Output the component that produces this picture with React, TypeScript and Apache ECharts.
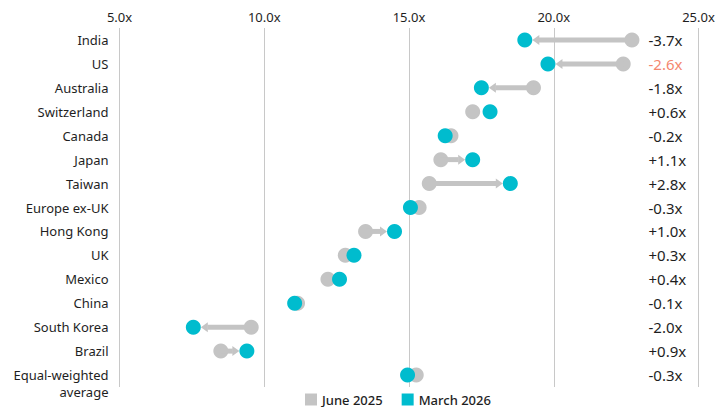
import React, { useEffect, useRef } from "react";
import * as echarts from "echarts";

const categories = [
  "India",
  "US",
  "Australia",
  "Switzerland",
  "Canada",
  "Japan",
  "Taiwan",
  "Europe ex-UK",
  "Hong Kong",
  "UK",
  "Mexico",
  "China",
  "South Korea",
  "Brazil",
  "Equal-weighted\naverage",
];
const june2025 = [22.7, 22.4, 19.3, 17.2, 16.45, 16.1, 15.7, 15.35, 13.5, 12.8, 12.2, 11.15, 9.55, 8.5, 15.25];
const march2026 = [19.0, 19.8, 17.5, 17.8, 16.25, 17.2, 18.5, 15.05, 14.5, 13.1, 12.6, 11.05, 7.55, 9.4, 14.95];
const changeLabels = ["-3.7x", "-2.6x", "-1.8x", "+0.6x", "-0.2x", "+1.1x", "+2.8x", "-0.3x", "+1.0x", "+0.3x", "+0.4x", "-0.1x", "-2.0x", "+0.9x", "-0.3x"];
const highlightedIndex = 1;
const xMin = 5;
const xMax = 25;
const xInterval = 5;

const GRAY = "#C4C4C4";
const TEAL = "#00BCCE";
const TEXT = "#1E1E1E";
const SALMON = "#F4876F";
const FONT = "'Noto Sans', sans-serif";

export default function App() {
  const ref = useRef<HTMLDivElement>(null);
  useEffect(() => {
    if (!ref.current) return;
    const chart = echarts.init(ref.current, null, { renderer: "svg" });
    const R = 7.5;
    chart.setOption({
      animation: false,
      backgroundColor: "#ffffff",
      textStyle: { fontFamily: FONT },
      grid: { left: 119.5, right: 28.5, top: 28, bottom: 20, containLabel: false },
      legend: {
        data: ["June 2025", "March 2026"],
        left: 300,
        top: 388,
        icon: "rect",
        itemWidth: 12,
        itemHeight: 12,
        itemGap: 19,
        textStyle: { fontFamily: FONT, fontSize: 13, color: TEXT, fontWeight: 500 },
      },
      xAxis: {
        type: "value",
        position: "top",
        min: xMin,
        max: xMax,
        interval: xInterval,
        axisLine: { show: false },
        axisTick: { show: false },
        splitLine: { show: true, lineStyle: { color: "#C8C8C8", width: 1 } },
        axisLabel: {
          formatter: (v: number) => v.toFixed(1) + "x",
          fontSize: 13,
          color: TEXT,
          margin: 5,
          fontFamily: FONT,
        },
      },
      yAxis: [
        {
          type: "category",
          data: categories,
          inverse: true,
          axisLine: { show: false },
          axisTick: { show: false },
          splitLine: { show: false },
          axisLabel: {
            interval: 0,
            showMinLabel: true,
            showMaxLabel: true,
            hideOverlap: false,
            fontSize: 13,
            color: TEXT,
            margin: 11,
            lineHeight: 17,
            fontFamily: FONT,
            formatter: (v: string) => (v.includes("\n") ? "\n" + v : v),
          },
        },
        {
          type: "category",
          data: changeLabels,
          inverse: true,
          position: "right",
          axisLine: { show: false },
          axisTick: { show: false },
          splitLine: { show: false },
          axisLabel: {
            interval: 0,
            fontSize: 15,
            margin: -50,
            align: "left",
            fontFamily: FONT,
            color: (_v: string, i: number) => (i === highlightedIndex ? SALMON : TEXT),
          },
        },
      ],
      series: [
        {
          name: "June 2025",
          type: "scatter",
          yAxisIndex: 0,
          symbol: "circle",
          symbolSize: R * 2,
          itemStyle: { color: GRAY, opacity: 1 },
          z: 2,
          data: june2025.map((v, i) => [v, i]),
        },
        {
          name: "arrows",
          type: "custom",
          yAxisIndex: 0,
          z: 3,
          silent: true,
          encode: { x: [1, 2], y: 0 },
          data: categories.map((_, i) => [i, june2025[i], march2026[i]]),
          renderItem: (_params: any, api: any) => {
            const idx = api.value(0);
            const a = api.coord([api.value(1), idx]);
            const b = api.coord([api.value(2), idx]);
            const dist = Math.abs(b[0] - a[0]);
            if (dist < 2 * R + 6) return { type: "group", children: [] };
            const dir = b[0] > a[0] ? 1 : -1;
            const tip = b[0] - dir * R;
            const headLen = 7;
            const headHalf = 5;
            const base = tip - dir * headLen;
            return {
              type: "group",
              children: [
                {
                  type: "line",
                  shape: { x1: a[0], y1: a[1], x2: base + dir * 0.5, y2: a[1] },
                  style: { stroke: GRAY, lineWidth: 5 },
                },
                {
                  type: "polygon",
                  shape: {
                    points: [
                      [tip, a[1]],
                      [base, a[1] - headHalf],
                      [base, a[1] + headHalf],
                    ],
                  },
                  style: { fill: GRAY },
                },
              ],
            };
          },
        },
        {
          name: "March 2026",
          type: "scatter",
          yAxisIndex: 0,
          symbol: "circle",
          symbolSize: R * 2,
          itemStyle: { color: TEAL, opacity: 1 },
          z: 4,
          data: march2026.map((v, i) => [v, i]),
        },
      ],
    });
    return () => chart.dispose();
  }, []);
  return (
    <div
      ref={ref}
      style={{ position: "fixed", left: 0, top: 0, width: 727, height: 407, background: "#fff" }}
    />
  );
}
